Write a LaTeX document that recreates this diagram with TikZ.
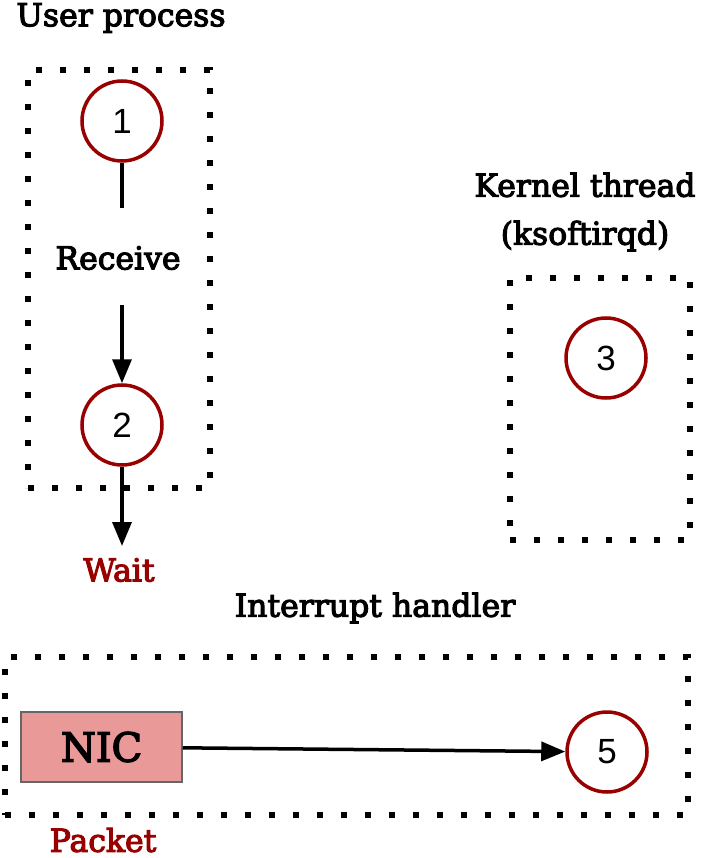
\documentclass[tikz,border=0pt]{standalone}
\usepackage{fontspec}
\setmainfont{DejaVu Serif}[BoldFont=DejaVu Serif, BoldFeatures={FakeBold=3.5}]
\newfontfamily\numfont{Liberation Sans}
\usetikzlibrary{arrows.meta}
\definecolor{darkred}{HTML}{990000}
\definecolor{nicfill}{HTML}{EA9999}
\definecolor{nicline}{HTML}{666666}
\tikzset{
  dotbox/.style={draw=black, line width=6pt, dash pattern=on 6pt off 18pt, inner sep=0pt},
  stepcircle/.style={circle, draw=darkred, line width=3.5pt, minimum size=80pt, inner sep=0pt, font=\numfont\fontsize{35}{40}\selectfont},
  lbl/.style={font=\bfseries\fontsize{31.5}{48}\selectfont, align=center, inner sep=0pt},
  redlbl/.style={lbl, text=darkred},
  flow/.style={line width=3.5pt, -{Triangle[length=24pt,width=19pt]}},
}
\begin{document}
\begin{tikzpicture}[x=1pt,y=-1pt]
\useasboundingbox (0,0) rectangle (704,858);

% group frames
\node[dotbox, minimum width=182pt, minimum height=418pt] (userbox) at (119,279) {};
\node[dotbox, minimum width=180pt, minimum height=262pt] (kernbox) at (600,409) {};
\node[dotbox, minimum width=683pt, minimum height=158pt] (irqbox) at (346.5,736) {};

% titles
\node[lbl] (usertitle) at (121,18) {User process};
\node[lbl] (kerntitle) at (585,212) {Kernel thread\\(ksoftirqd)};
\node[lbl] (irqtitle) at (375,608) {Interrupt handler};

% steps
\node[stepcircle] (s1) at (122,121) {1};
\node[lbl] (recv) at (118,258) {Receive};
\node[stepcircle] (s2) at (122,425) {2};
\node[redlbl] (wait) at (119,570) {Wait};
\node[stepcircle] (s3) at (606,358) {3};
\node[stepcircle] (s5) at (607,752) {5};

\node[draw=nicline, fill=nicfill, line width=1.5pt, minimum width=161pt, minimum height=70pt, inner sep=0pt,
      font=\bfseries\fontsize{40}{46}\selectfont] (nic) at (101.5,747) {NIC};
\node[redlbl] (packet) at (103,840) {Packet};

% connectors
\coordinate (recvtop) at (122,208);
\coordinate (recvbot) at (122,305);
\coordinate (waitend) at (122,546);
\draw[line width=3.5pt] (s1) -- (recvtop);
\draw[flow] (recvbot) -- (s2);
\draw[flow] (s2) -- (waitend);
\draw[flow] (nic) -- (s5);
\end{tikzpicture}
\end{document}
